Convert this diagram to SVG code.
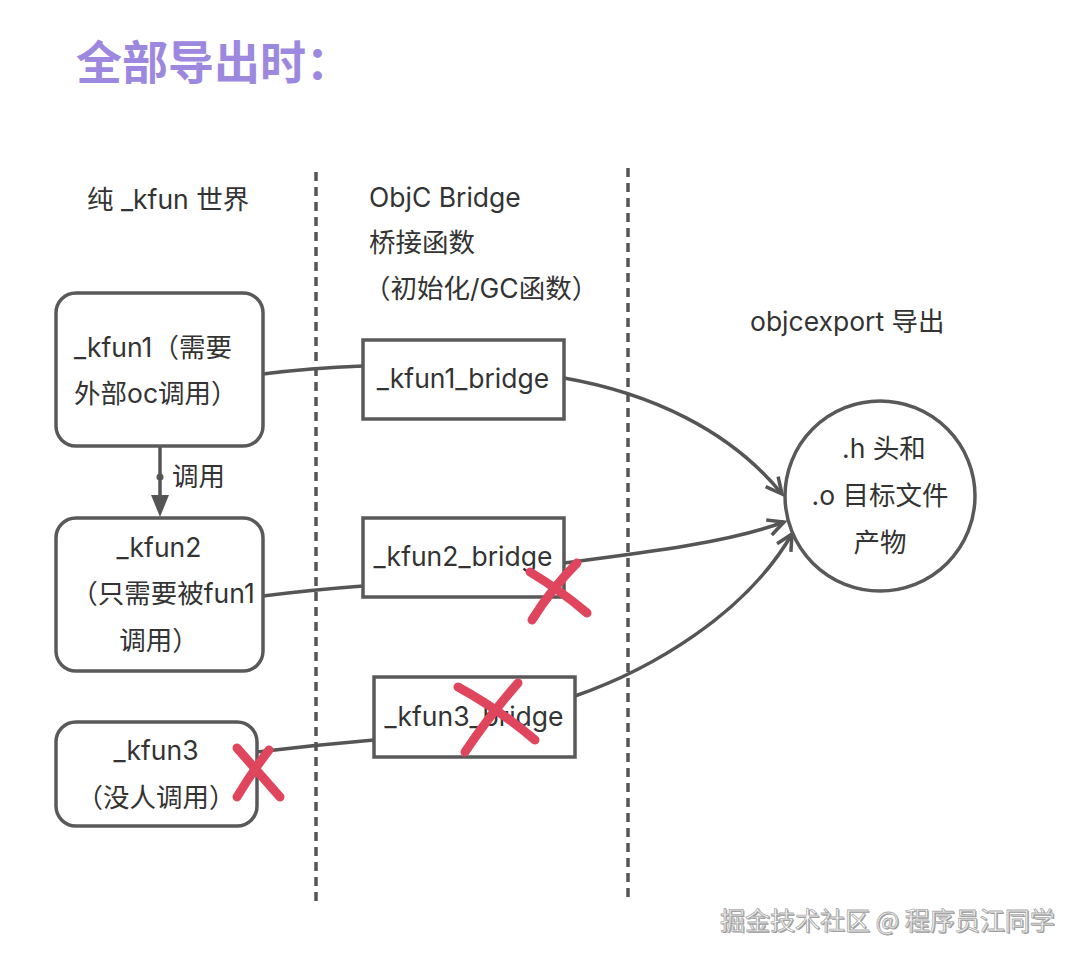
<svg xmlns="http://www.w3.org/2000/svg" width="1080" height="960" viewBox="0 0 1080 960">
<defs>
<style>
.t{font-family:Inter,"Noto Sans CJK SC",sans-serif;font-size:26.5px;fill:#333}
.c{text-anchor:middle}
.box{fill:#fff;stroke:#595959;stroke-width:3.5}
.ln{fill:none;stroke:#555;stroke-width:3.5}
.dash{fill:none;stroke:#555;stroke-width:3.5;stroke-dasharray:9 6}
.x{fill:none;stroke:#e0455e;stroke-width:9;stroke-linecap:round}
.wm{font-family:"Noto Sans CJK SC",sans-serif;font-size:25px}
</style>
<marker id="arr" markerUnits="userSpaceOnUse" markerWidth="30" markerHeight="30" viewBox="-20 -15 30 30" refX="0" refY="0" orient="auto">
<path d="M-16,-8 L0,0 L-16,8" fill="none" stroke="#555" stroke-width="3.5" stroke-linejoin="miter"/>
</marker>
</defs>
<rect width="1080" height="960" fill="#fff"/>

<text x="76" y="79" style="font-family:'Noto Sans CJK SC',sans-serif;font-size:46px;font-weight:bold;fill:#9d88e0">全部导出时：</text>

<g id="headers">
<text class="t" x="87" y="209">纯 _kfun 世界</text>
<text class="t" x="369" y="207">ObjC Bridge</text>
<text class="t" x="369" y="252">桥接函数</text>
<text class="t" x="364" y="298">（初始化/GC函数）</text>
<text class="t" x="750" y="331">objcexport 导出</text>
</g>

<g id="dividers">
<line class="dash" x1="316" y1="172" x2="316" y2="905"/>
<line class="dash" x1="628" y1="168" x2="628" y2="900"/>
</g>

<g id="connectors">
<path class="ln" d="M263,374 Q310,368 363,366"/>
<path class="ln" d="M263,596 Q310,590 363,586"/>
<path class="ln" d="M257,752 Q315,745 374,740"/>
<path class="ln" d="M564,378 C650,393 730,430 782,494" marker-end="url(#arr)"/>
<path class="ln" d="M564,563 C650,552 730,542 784,522" marker-end="url(#arr)"/>
<path class="ln" d="M575,696 C650,670 745,615 792,534" marker-end="url(#arr)"/>
<line class="ln" x1="160" y1="446" x2="160" y2="496"/>
<circle cx="160" cy="477" r="3.5" fill="#555"/>
<path d="M151,495 L169,495 L160,517 Z" fill="#555"/>
<text class="t" x="172" y="486">调用</text>
</g>

<g id="kfun1">
<rect class="box" x="56" y="293" width="207" height="153" rx="20"/>
<text class="t" x="74" y="357">_kfun1（需要</text>
<text class="t" x="74" y="403">外部oc调用）</text>
</g>

<g id="kfun2">
<rect class="box" x="56" y="518" width="207" height="153" rx="20"/>
<text class="t c" x="159" y="557">_kfun2</text>
<text class="t c" x="163" y="603">（只需要被fun1</text>
<text class="t c" x="159" y="650">调用）</text>
</g>

<g id="kfun3">
<rect class="box" x="56" y="722" width="201" height="104" rx="20"/>
<text class="t c" x="156" y="760">_kfun3</text>
<text class="t c" x="156" y="807">（没人调用）</text>
</g>

<g id="bridge1">
<rect class="box" x="363" y="340" width="201" height="79"/>
<text class="t c" x="463" y="388">_kfun1_bridge</text>
</g>

<g id="bridge2">
<rect class="box" x="363" y="518" width="201" height="79"/>
<text class="t c" x="463" y="566">_kfun2_bridge</text>
</g>

<g id="bridge3">
<rect class="box" x="374" y="677" width="201" height="80"/>
<text class="t c" x="474" y="726">_kfun3_bridge</text>
</g>

<g id="output">
<circle cx="880" cy="496" r="95" fill="#fff" stroke="#595959" stroke-width="3.5"/>
<text class="t c" x="884" y="458">.h 头和</text>
<text class="t c" x="880" y="505">.o 目标文件</text>
<text class="t c" x="880" y="552">产物</text>
</g>

<g id="marks">
<path class="x" d="M532,620 Q552,588 577,563"/>
<path class="x" d="M530,572 Q560,590 587,613"/>
<path class="x" d="M465,752 Q490,715 518,683"/>
<path class="x" d="M458,687 Q500,710 535,740"/>
<path class="x" d="M237,797 Q252,772 269,750"/>
<path class="x" d="M237,748 Q258,772 280,797"/>
</g>

<g id="watermark">
<text class="wm" x="720" y="930" fill="#999" transform="translate(1.2,1.2)">掘金技术社区 @ 程序员江同学</text>
<text class="wm" x="720" y="930" fill="#fff" stroke="#aaa" stroke-width="0.8">掘金技术社区 @ 程序员江同学</text>
</g>
</svg>
